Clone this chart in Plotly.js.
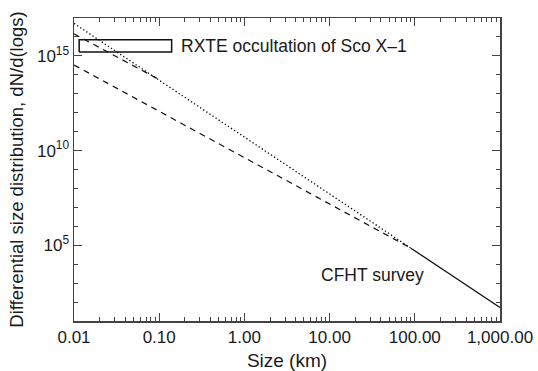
<!DOCTYPE html>
<html>
<head>
<meta charset="utf-8">
<script src="https://cdn.plot.ly/plotly-3.0.1.min.js"></script>
<style>html,body{margin:0;padding:0;background:#fff;}#chart{width:538px;height:371px;}</style>
</head>
<body>
<div id="chart"></div>
<script>
// CFHT survey (solid)
const cfhtSize = [90, 1000];
const cfhtN = [7.0e4, 5.2e1];
// Extrapolation of the CFHT power law (dotted)
const extrapSize = [0.01, 90];
const extrapN = [5.2e16, 7.0e4];
// Shallower power law joining at ~100 km (dashed, lower)
const shallowSize = [0.01, 90];
const shallowN = [3.3e14, 7.0e4];
// Shallower power law breaking at ~0.1 km (dashed, upper)
const breakSize = [0.01, 0.102];
const breakN = [1.45e16, 5.3e13];
// RXTE occultation box
const rxteSize = [0.0115, 0.14];
const rxteN = [1.6e15, 7.0e15];
// Tick labels
const xTickVals = [0.01, 0.1, 1, 10, 100, 1000];
const xTickText = ['0.01', '0.10', '1.00', '10.00', '100.00', '1,000.00'];
const yTickVals = [1e5, 1e10, 1e15];
const yTickText = ['10<sup>5</sup>', '10<sup>10</sup>', '10<sup>15</sup>'];

const lineCol = '#111';
const traces = [
  {x: extrapSize, y: extrapN, mode: 'lines', line: {color: '#000', width: 1.3, dash: '1.3px,2.4px'}},
  {x: shallowSize, y: shallowN, mode: 'lines', line: {color: lineCol, width: 1.2, dash: '6px,5px'}},
  {x: breakSize, y: breakN, mode: 'lines', line: {color: lineCol, width: 1.2, dash: '6px,5px'}},
  {x: cfhtSize, y: cfhtN, mode: 'lines', line: {color: lineCol, width: 1.3}},
  {x: [rxteSize[0], rxteSize[1], rxteSize[1], rxteSize[0], rxteSize[0]],
   y: [rxteN[0], rxteN[0], rxteN[1], rxteN[1], rxteN[0]],
   mode: 'lines', line: {color: lineCol, width: 1.5}}
];

// minor ticks
const xMinor = [];
for (let e = -2; e < 3; e++) for (let m = 2; m <= 9; m++) xMinor.push(m * Math.pow(10, e));
const yMinor = [];
for (let e = 1; e <= 17; e++) if (e % 5 !== 0) yMinor.push(Math.pow(10, e));

const font = 'Liberation Sans, Arial, Helvetica, sans-serif';
const axCol = '#444';
const txtCol = '#1a1a1a';
const layout = {
  width: 538, height: 371,
  margin: {l: 74, r: 38, t: 18, b: 50},
  paper_bgcolor: '#fff', plot_bgcolor: '#fff',
  showlegend: false,
  font: {family: font, size: 17, color: txtCol},
  xaxis: {
    type: 'log', range: [-2, 3],
    showline: true, linecolor: axCol, linewidth: 1.5, mirror: 'ticks',
    showgrid: false, zeroline: false,
    ticks: 'inside', ticklen: 8, tickwidth: 1.2, tickcolor: axCol,
    tickmode: 'array', tickvals: xTickVals, ticktext: xTickText,
    tickfont: {size: 17, color: txtCol},
    minor: {tickmode: 'array', tickvals: xMinor, ticks: 'inside', ticklen: 4, tickwidth: 1, tickcolor: axCol, showgrid: false},
    title: {text: 'Size (km)', font: {size: 19, color: txtCol}, standoff: 9}
  },
  yaxis: {
    type: 'log', range: [1, 17],
    showline: true, linecolor: axCol, linewidth: 1.5, mirror: 'ticks',
    showgrid: false, zeroline: false,
    ticks: 'inside', ticklen: 8, tickwidth: 1.2, tickcolor: axCol,
    tickmode: 'array', tickvals: yTickVals, ticktext: yTickText,
    tickfont: {size: 17, color: txtCol},
    minor: {tickmode: 'array', tickvals: yMinor, ticks: 'inside', ticklen: 4, tickwidth: 1, tickcolor: axCol, showgrid: false},
    title: {text: 'Differential size distribution, dN/d(logs)', font: {size: 18.5, color: txtCol}, standoff: 8}
  },
  annotations: [
    {text: 'RXTE occultation of Sco X\u20131', xref: 'paper', yref: 'paper', x: (179-74)/426, y: (321-46)/303,
     xanchor: 'left', yanchor: 'middle', showarrow: false, font: {size: 17.5, color: txtCol}},
    {text: 'CFHT survey', xref: 'paper', yref: 'paper', x: (319-74)/426, y: (321-275)/303,
     xanchor: 'left', yanchor: 'middle', showarrow: false, font: {size: 17.5, color: txtCol}}
  ]
};
Plotly.newPlot('chart', traces, layout, {displayModeBar: false, staticPlot: true});
</script>
</body>
</html>
